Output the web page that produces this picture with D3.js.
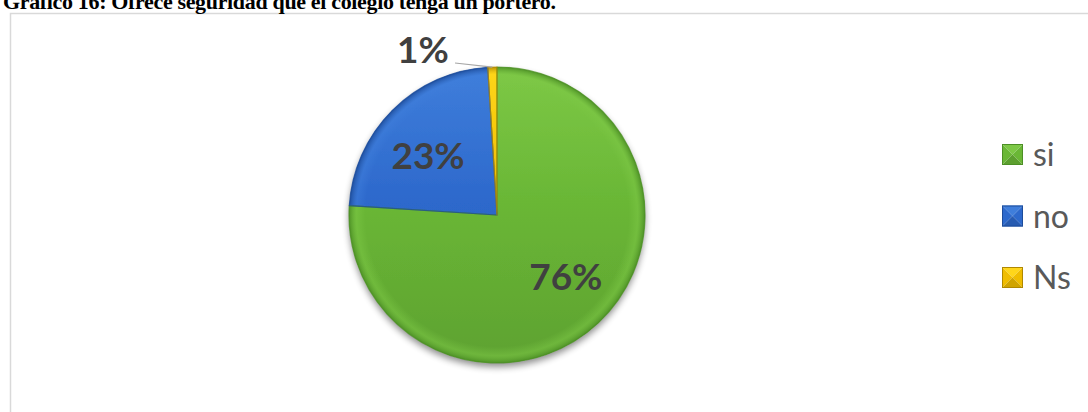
<!DOCTYPE html>
<html>
<head>
<meta charset="utf-8">
<script src="https://cdn.jsdelivr.net/npm/d3@7"></script>
<style>
  html, body { margin: 0; padding: 0; background: #fff; overflow: hidden; }
  svg { display: block; }
</style>
</head>
<body>
<svg id="chart" width="1088" height="412"></svg>
<script>
// Survey answers and their shares (percent)
const categories = ["si", "no", "Ns"];
const values = [76, 23, 1];
const valueLabels = ["76%", "23%", "1%"];
const titleText = "Gráfico 16: Ofrece seguridad que el colegio tenga un portero.";

// Slice palette: [light, base, dark]
const palette = [
  ["#7dc846", "#6ab736", "#4c8f25"],
  ["#3f7edb", "#2d69cc", "#1d4c9a"],
  ["#ffd61a", "#f0bd00", "#b08800"]
];

const svg = d3.select("#chart");
const W = 1088, H = 412;
const cx = 497, cy = 215, R = 148;

const defs = svg.append("defs");

// Soft shadow under the pie
const shadow = defs.append("filter").attr("id", "pieShadow")
  .attr("x", "-20%").attr("y", "-20%").attr("width", "140%").attr("height", "140%");
shadow.append("feGaussianBlur").attr("in", "SourceAlpha").attr("stdDeviation", 3.5).attr("result", "b");
shadow.append("feOffset").attr("in", "b").attr("dy", 4).attr("result", "o");
shadow.append("feComponentTransfer").attr("in", "o").attr("result", "s")
  .append("feFuncA").attr("type", "linear").attr("slope", 0.45);
const merge = shadow.append("feMerge");
merge.append("feMergeNode").attr("in", "s");
merge.append("feMergeNode").attr("in", "SourceGraphic");

// Vertical body gradients and rim gradients per slice (pie group frame, centre at 0,0)
palette.forEach((c, i) => {
  const g = defs.append("linearGradient").attr("id", "body" + i)
    .attr("gradientUnits", "userSpaceOnUse")
    .attr("x1", 0).attr("y1", -R).attr("x2", 0).attr("y2", R);
  g.append("stop").attr("offset", "0%").attr("stop-color", c[0]);
  g.append("stop").attr("offset", "45%").attr("stop-color", c[1]);
  g.append("stop").attr("offset", "100%").attr("stop-color", d3.color(c[1]).darker(0.35));

  const rg = defs.append("radialGradient").attr("id", "bevel" + i)
    .attr("gradientUnits", "userSpaceOnUse")
    .attr("cx", 0).attr("cy", 0).attr("r", R);
  rg.append("stop").attr("offset", "89%").attr("stop-color", c[0]).attr("stop-opacity", 0);
  rg.append("stop").attr("offset", "95%").attr("stop-color", c[0]).attr("stop-opacity", 0.5);
  rg.append("stop").attr("offset", "100%").attr("stop-color", c[2]).attr("stop-opacity", 0.9);
});

// Chart frame
svg.append("rect")
  .attr("x", 10.5).attr("y", 13.5)
  .attr("width", W + 20).attr("height", H + 20)
  .attr("fill", "#fff").attr("stroke", "#d9d9d9").attr("stroke-width", 1.5);

// Title (sits above the frame, its top clipped by the page edge)
svg.append("text")
  .attr("x", 3).attr("y", 9)
  .attr("font-family", "'Liberation Serif', 'Times New Roman', serif")
  .attr("font-weight", "bold").attr("font-size", 22)
  .attr("textLength", 553).attr("lengthAdjust", "spacing")
  .attr("fill", "#000")
  .text(titleText);

// Pie
const pie = d3.pie().sort(null).value(d => d)(values);
const arc = d3.arc().innerRadius(0).outerRadius(R);

const pieG = svg.append("g").attr("transform", `translate(${cx},${cy})`);

pieG.append("g").attr("filter", "url(#pieShadow)")
  .selectAll("path.body")
  .data(pie)
  .join("path")
  .attr("class", "body")
  .attr("d", arc)
  .attr("fill", (d, i) => `url(#body${i})`);

// Rim highlight / shading
pieG.selectAll("path.bevel")
  .data(pie)
  .join("path")
  .attr("class", "bevel")
  .attr("d", arc)
  .attr("fill", (d, i) => `url(#bevel${i})`);

// Slice outlines
pieG.selectAll("path.edge")
  .data(pie)
  .join("path")
  .attr("class", "edge")
  .attr("d", arc)
  .attr("fill", "none")
  .attr("stroke", (d, i) => palette[i][2])
  .attr("stroke-opacity", 0.75)
  .attr("stroke-width", 1.2)
  .attr("stroke-linejoin", "round");

// Value labels
const labelFont = "Lato, 'Open Sans', sans-serif";
const insideArc = d3.arc().innerRadius(R * 0.63).outerRadius(R * 0.63);
const nudge = [[5, -7], [-3, 5]];
[0, 1].forEach(i => {
  const [x, y] = insideArc.centroid(pie[i]);
  pieG.append("text")
    .attr("x", x + nudge[i][0]).attr("y", y + nudge[i][1])
    .attr("text-anchor", "middle")
    .attr("dominant-baseline", "central")
    .attr("font-family", labelFont)
    .attr("font-weight", "bold")
    .attr("font-size", 37)
    .attr("fill", "#404040")
    .text(valueLabels[i]);
});

// Small slice: label outside with a leader line to the slice edge
{
  const d = pie[2];
  const mid = (d.startAngle + d.endAngle) / 2;
  const ex = Math.sin(mid) * R, ey = -Math.cos(mid) * R;
  const labelX = -74, labelY = -152;
  pieG.append("path")
    .attr("d", d3.line()([[labelX + 32, labelY], [ex, ey]]))
    .attr("fill", "none")
    .attr("stroke", "#a6a6a6")
    .attr("stroke-width", 1.2);
  pieG.append("text")
    .attr("x", labelX).attr("y", labelY)
    .attr("text-anchor", "middle")
    .attr("font-family", labelFont)
    .attr("font-weight", "bold")
    .attr("font-size", 37)
    .attr("fill", "#404040")
    .text(valueLabels[2]);
}

// Legend with bevelled swatches
const legend = svg.append("g").attr("transform", "translate(1002,144)");
const rowStep = 61.5, sw = 21;
legend.selectAll("g.row")
  .data(categories)
  .join("g")
  .attr("class", "row")
  .attr("transform", (d, i) => `translate(0,${i * rowStep})`)
  .each(function(d, i) {
    const g = d3.select(this);
    const c = palette[i];
    const m = [sw / 2, sw / 2];
    const tri = (pts, fill) => g.append("path")
      .attr("d", d3.line()(pts) + "Z").attr("fill", fill);
    tri([[0, 0], [sw, 0], m], c[0]);
    tri([[0, 0], [0, sw], m], c[1]);
    tri([[sw, 0], [sw, sw], m], c[1]);
    tri([[0, sw], [sw, sw], m], d3.color(c[1]).darker(0.4));
    g.append("rect")
      .attr("x", 0.5).attr("y", 0.5).attr("width", sw - 1).attr("height", sw - 1)
      .attr("fill", "none").attr("stroke", c[2]).attr("stroke-width", 1);
    g.append("text")
      .attr("x", 31).attr("y", 22)
      .attr("font-family", labelFont)
      .attr("font-size", 32)
      .attr("fill", "#595959")
      .text(d);
  });
</script>
</body>
</html>
